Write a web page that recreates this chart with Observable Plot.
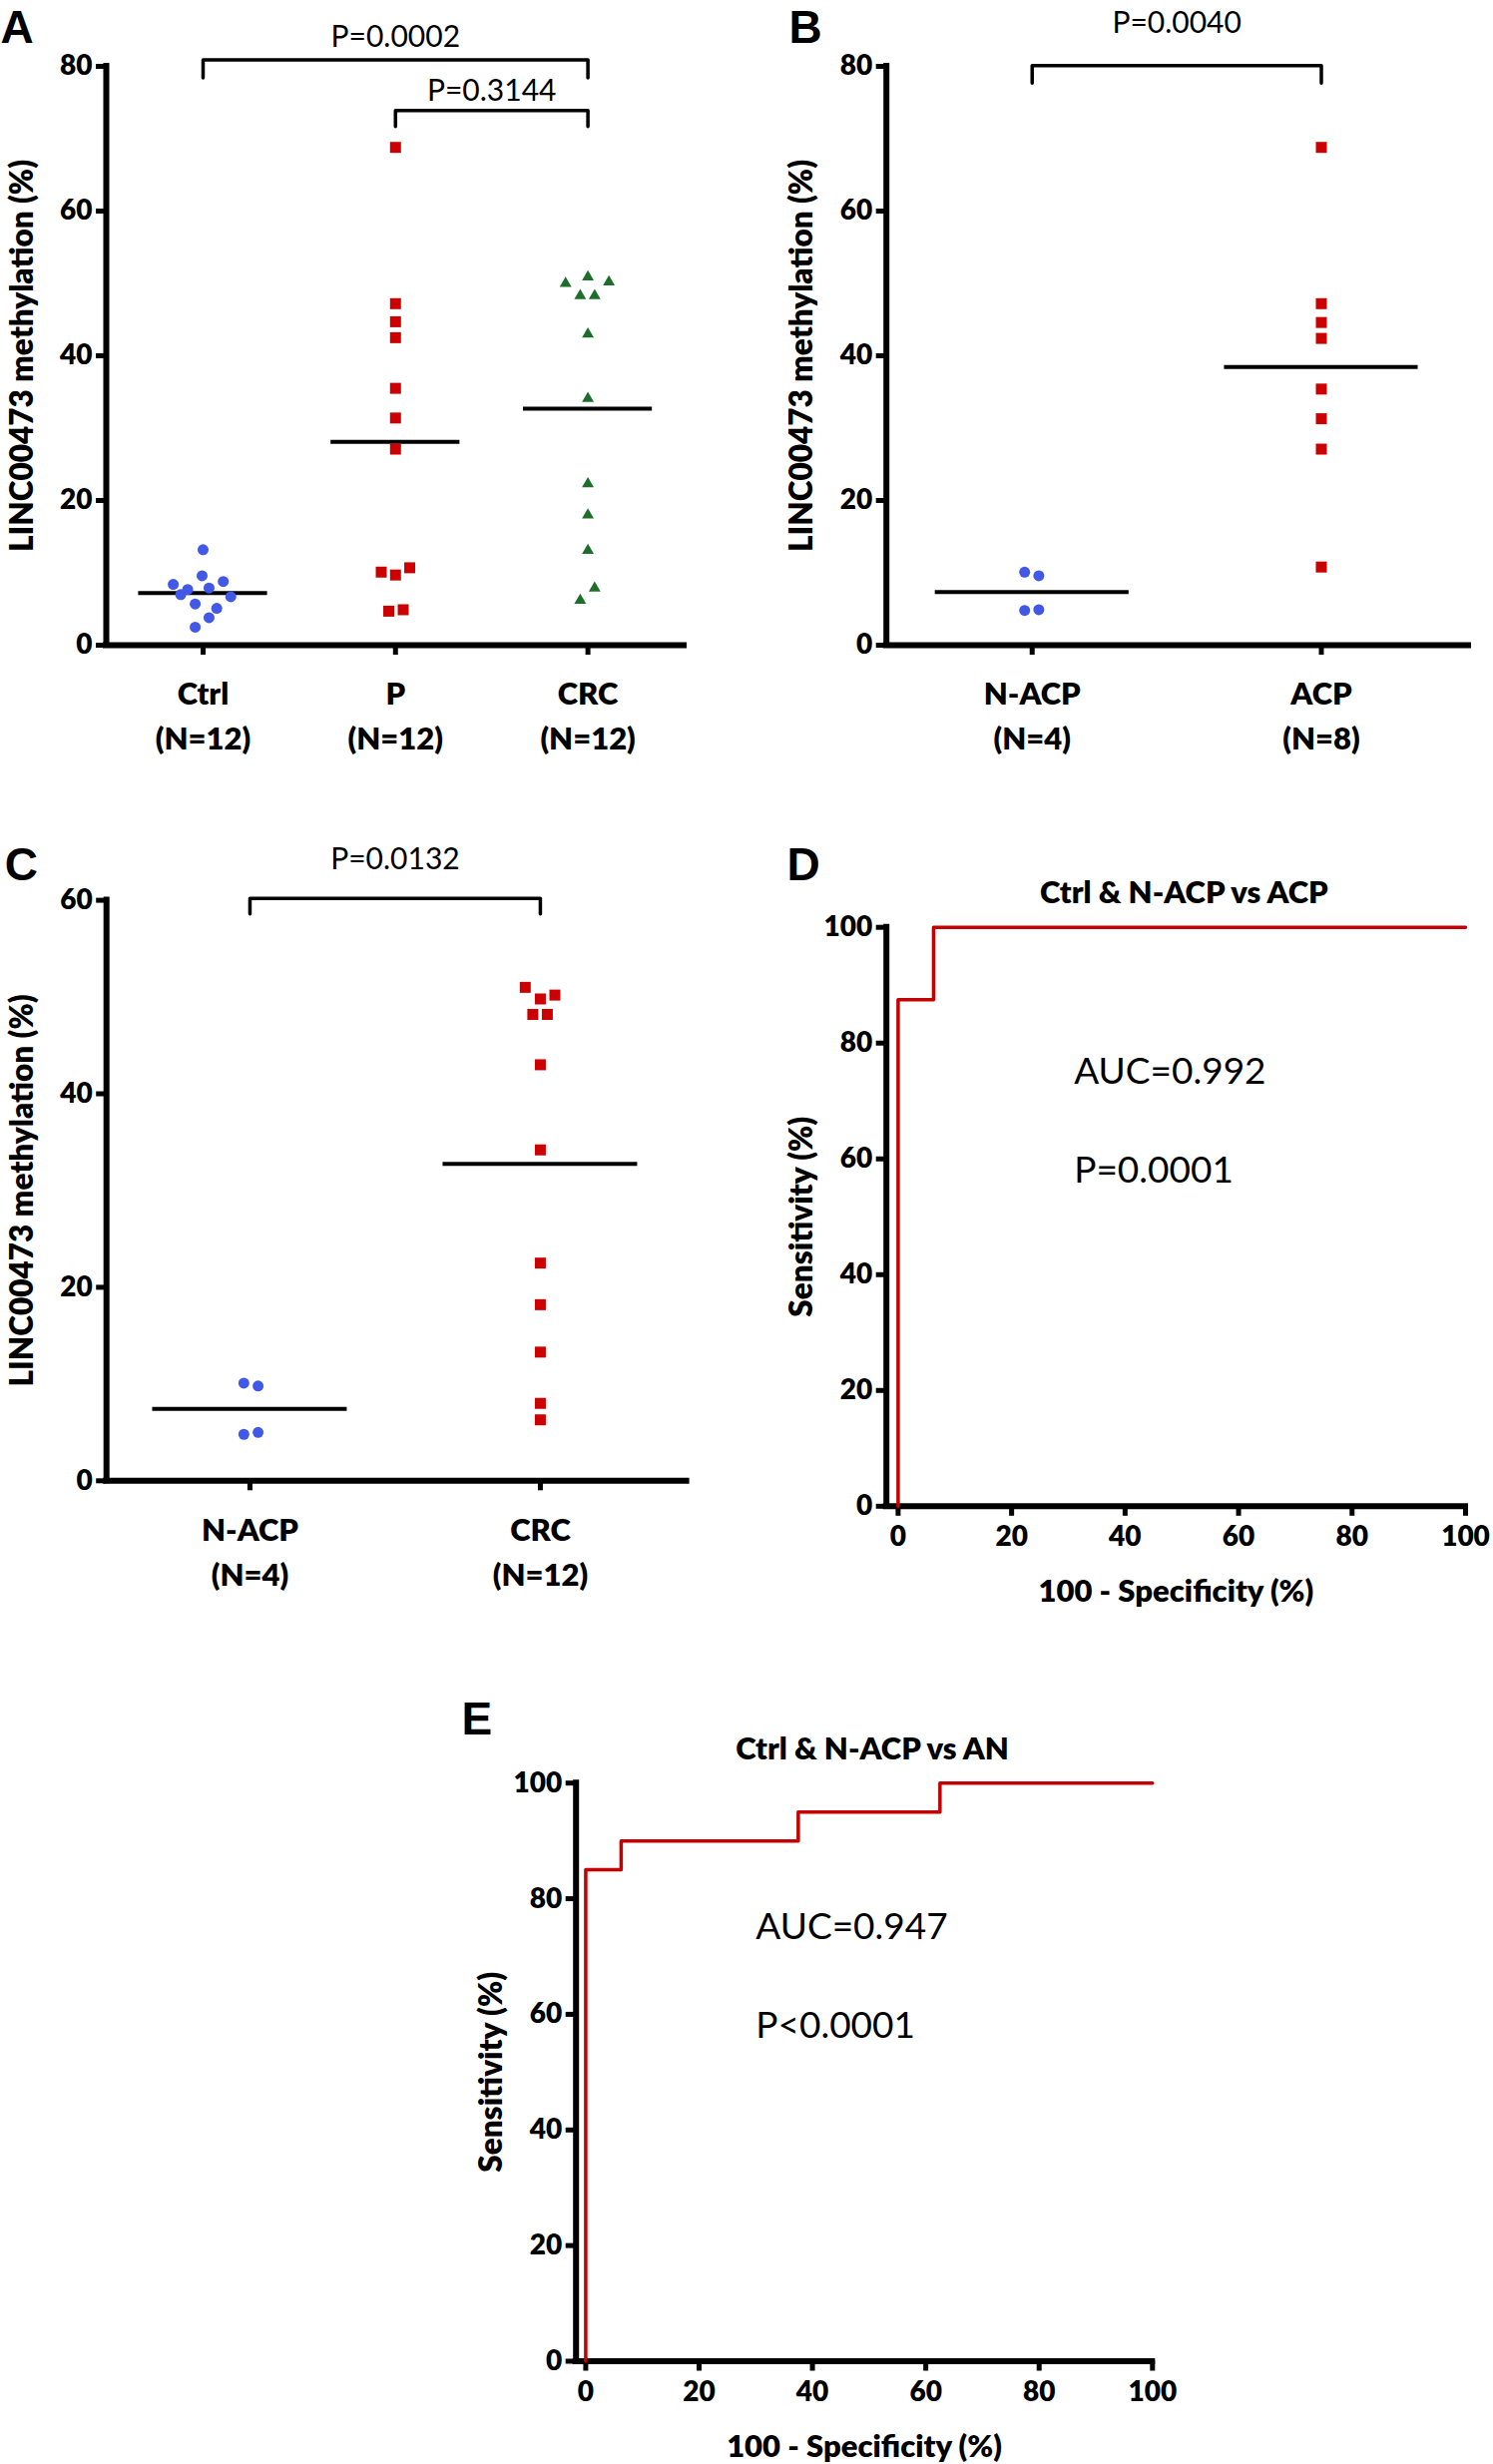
<!DOCTYPE html>
<html>
<head>
<meta charset="utf-8">
<script src="https://cdn.jsdelivr.net/npm/d3@7"></script>
<script src="https://cdn.jsdelivr.net/npm/@observablehq/plot@0.6"></script>
<style>
  body { margin: 0; background: #ffffff; }
  #fig { position: relative; width: 1496px; height: 2469px; background: #ffffff; overflow: hidden; }
  #fig svg { position: absolute; }
</style>
</head>
<body>
<div id="fig"></div>
<script>
// ---------------- DATA ----------------
// Panel A
const groupsA = ["Ctrl", "P", "CRC"];
const nA = ["(N=12)", "(N=12)", "(N=12)"];
const ctrlValues = [13.2, 8.4, 9.6, 8.8, 7.7, 7.9, 7.0, 6.7, 5.7, 5.1, 3.8, 2.5];
const ctrlJitter = [0, -0.155, -0.005, 0.105, -0.080, 0.031, -0.116, 0.144, -0.041, 0.071, 0.031, -0.041];
const polypValues = [68.8, 47.2, 44.7, 42.5, 35.5, 31.4, 27.1, 10.1, 9.7, 10.7, 4.7, 4.9];
const polypJitter = [0, 0, 0, 0, 0, 0, 0, -0.074, 0, 0.074, -0.035, 0.040];
const crcValuesA = [50.9, 50.0, 50.2, 48.3, 48.3, 43.0, 34.1, 22.3, 18.0, 13.1, 7.9, 6.2];
const crcJitterA = [0, -0.116, 0.109, -0.040, 0.035, 0, 0, 0, 0, 0, 0.035, -0.040];
const pLabelsA = ["P=0.0002", "P=0.3144"];

// Panel B
const groupsB = ["N-ACP", "ACP"];
const nB = ["(N=4)", "(N=8)"];
const nacpValuesB = [10.1, 9.6, 4.8, 4.9];
const nacpJitterB = [-0.026, 0.023, -0.026, 0.023];
const acpValues = [68.8, 47.2, 44.6, 42.4, 35.4, 31.3, 27.1, 10.8];
const acpJitter = [0, 0, 0, 0, 0, 0, 0, 0];
const pLabelsB = ["P=0.0040"];

// Panel C
const groupsC = ["N-ACP", "CRC"];
const nC = ["(N=4)", "(N=12)"];
const nacpValuesC = [10.1, 9.8, 4.8, 5.0];
const nacpJitterC = [-0.021, 0.028, -0.021, 0.028];
const crcValuesC = [51.0, 49.8, 50.2, 48.2, 48.2, 43.0, 34.2, 22.5, 18.2, 13.3, 8.0, 6.3];
const crcJitterC = [-0.052, 0, 0.050, -0.026, 0.024, 0, 0, 0, 0, 0, 0, 0];
const pLabelsC = ["P=0.0132"];

// Panel D (ROC: Ctrl & N-ACP vs ACP) – step corners
const rocD_fpr = [0, 0, 6.25, 100];
const rocD_tpr = [0, 87.5, 100, 100];
const statsD = ["AUC=0.992", "P=0.0001"];

// Panel E (ROC: Ctrl & N-ACP vs AN)
const rocE_fpr = [0, 0, 6.25, 37.5, 62.5, 100];
const rocE_tpr = [0, 85, 90, 95, 100, 100];
const statsE = ["AUC=0.947", "P<0.0001"];

const pctTicks = [0, 20, 40, 60, 80, 100];

// ---------------- STYLE ----------------
const BLUE = "#4159e6", RED = "#cc0000", GREEN = "#1d6e2a", ROC = "#c40000";
const FONT = "Lato, 'Open Sans', sans-serif";
const LETTER_FONT = "'Liberation Sans', Arial, sans-serif";
const BOLD = 800;
const fig = document.getElementById("fig");

function place(svg, left, top) {
  svg.style.left = left + "px";
  svg.style.top = top + "px";
  fig.appendChild(svg);
}

function yLabel(text) {
  return Plot.text([text], {frameAnchor: "left", rotate: -90, dx: -84, fontSize: 31.5, fontWeight: BOLD,
    textAnchor: "middle", lineAnchor: "middle", fontFamily: FONT});
}
function letterMark(letter, dx, dy) {
  return Plot.text([letter], {frameAnchor: "top-left", dx, dy, textAnchor: "start", lineAnchor: "bottom",
    fontSize: 46, fontWeight: "bold", fontFamily: LETTER_FONT});
}

function scatterPanel(cfg) {
  const pts = cfg.series.flatMap((s, gi) => s.values.map((v, j) => ({x: gi + s.jitter[j], y: v, s: gi})));
  const means = cfg.series.map((s, gi) => ({g: gi, m: d3.mean(s.values)}));
  const bracketPts = cfg.brackets.flatMap((b, k) => [
    {k, x: b.from, y: b.level - b.drop},
    {k, x: b.from, y: b.level},
    {k, x: b.to, y: b.level},
    {k, x: b.to, y: b.level - b.drop}
  ]);
  const marks = [
    Plot.ruleY([0], {strokeWidth: 6, strokeLinecap: "square"}),
    Plot.ruleX([cfg.xDomain[0]], {strokeWidth: 6, strokeLinecap: "square"}),
    Plot.axisY({ticks: cfg.yTicks, tickSize: 10, tickPadding: 4, fontSize: 28, fontWeight: BOLD,
      strokeWidth: 5, label: null, fontFamily: FONT}),
    Plot.axisX({ticks: d3.range(cfg.groups.length), tickFormat: i => `${cfg.groups[i]}\n${cfg.ns[i]}`,
      tickSize: 10, tickPadding: 18, fontSize: 31, fontWeight: BOLD, lineHeight: 1.45,
      strokeWidth: 5, label: null, fontFamily: FONT}),
    Plot.ruleY(means, {y: "m", x1: d => d.g - 0.335, x2: d => d.g + 0.335, strokeWidth: 4}),
    ...cfg.series.map((s, gi) => Plot.dot(pts.filter(p => p.s === gi), {x: "x", y: "y", symbol: s.symbol,
      r: s.r, fill: s.color, stroke: "none"})),
    Plot.line(bracketPts, {x: "x", y: "y", z: "k", strokeWidth: 3.5}),
    Plot.text(cfg.brackets, {x: b => (b.from + b.to) / 2, y: "textY", text: "label", fontSize: 30,
      fontWeight: "normal", fontFamily: FONT, lineAnchor: "middle"}),
    yLabel("LINC00473 methylation (%)"),
    letterMark(cfg.letter, cfg.letterDx, cfg.letterDy)
  ];
  return Plot.plot({
    width: cfg.width, height: cfg.height,
    marginLeft: cfg.m[0], marginRight: cfg.m[1], marginTop: cfg.m[2], marginBottom: cfg.m[3],
    x: {type: "linear", domain: cfg.xDomain, axis: null},
    y: {type: "linear", domain: [0, cfg.yMax], axis: null},
    style: {background: "white", fontFamily: FONT, color: "black", overflow: "visible"},
    marks
  });
}

function rocPanel(cfg) {
  const pts = cfg.fpr.map((f, i) => ({f, t: cfg.tpr[i]}));
  const marks = [
    Plot.ruleY([0], {strokeWidth: 6, strokeLinecap: "square"}),
    Plot.ruleX([cfg.xDomain[0]], {strokeWidth: 6, strokeLinecap: "square"}),
    Plot.axisY({ticks: pctTicks, tickSize: 10, tickPadding: 4, fontSize: 28, fontWeight: BOLD,
      strokeWidth: 5, label: null, fontFamily: FONT}),
    Plot.axisX({ticks: pctTicks, tickSize: 10, tickPadding: 10, fontSize: 28, fontWeight: BOLD,
      strokeWidth: 5, label: null, fontFamily: FONT}),
    Plot.line(pts, {x: "f", y: "t", curve: "step-after", stroke: ROC, strokeWidth: 3.5}),
    Plot.text([cfg.stats[0]], {x: cfg.statX, y: 75, textAnchor: "start", lineAnchor: "middle", fontSize: 37,
      fontWeight: "normal", fontFamily: FONT}),
    Plot.text([cfg.stats[1]], {x: cfg.statX, y: 58, textAnchor: "start", lineAnchor: "middle", fontSize: 37,
      fontWeight: "normal", fontFamily: FONT}),
    Plot.text([cfg.title], {frameAnchor: "top", dx: 8, dy: -34, lineAnchor: "middle", fontSize: 31,
      fontWeight: BOLD, fontFamily: FONT}),
    Plot.text(["100 - Specificity (%)"], {frameAnchor: "bottom", dy: 86, lineAnchor: "middle", fontSize: 31,
      fontWeight: BOLD, fontFamily: FONT}),
    yLabel("Sensitivity (%)"),
    letterMark(cfg.letter, cfg.letterDx, cfg.letterDy)
  ];
  return Plot.plot({
    width: cfg.width, height: cfg.height,
    marginLeft: cfg.m[0], marginRight: cfg.m[1], marginTop: cfg.m[2], marginBottom: cfg.m[3],
    x: {type: "linear", domain: cfg.xDomain, axis: null},
    y: {type: "linear", domain: [0, 100], axis: null},
    style: {background: "white", fontFamily: FONT, color: "black", overflow: "visible"},
    marks
  });
}

// ---------------- PANELS ----------------
place(scatterPanel({
  width: 748, height: 780, m: [106, 63, 66, 134],
  xDomain: [-0.503, 2.50], yMax: 80, yTicks: [0, 20, 40, 60, 80],
  groups: groupsA, ns: nA,
  series: [
    {values: ctrlValues, jitter: ctrlJitter, symbol: "circle", r: 5.5, color: BLUE},
    {values: polypValues, jitter: polypJitter, symbol: "square", r: 6.2, color: RED},
    {values: crcValuesA, jitter: crcJitterA, symbol: "triangle", r: 4.4, color: GREEN}
  ],
  brackets: [
    {from: 0, to: 2, level: 80.9, drop: 2.5, label: pLabelsA[0], textY: 84.0},
    {from: 1, to: 2, level: 73.9, drop: 2.2, label: pLabelsA[1], textY: 76.6}
  ],
  letter: "A", letterDx: -106, letterDy: -24
}), 0, 0);

place(scatterPanel({
  width: 748, height: 780, m: [139.7, 25, 66, 134],
  xDomain: [-0.504, 1.509], yMax: 80, yTicks: [0, 20, 40, 60, 80],
  groups: groupsB, ns: nB,
  series: [
    {values: nacpValuesB, jitter: nacpJitterB, symbol: "circle", r: 5.5, color: BLUE},
    {values: acpValues, jitter: acpJitter, symbol: "square", r: 6.2, color: RED}
  ],
  brackets: [
    {from: 0, to: 1, level: 80.1, drop: 2.4, label: pLabelsB[0], textY: 86.0}
  ],
  letter: "B", letterDx: -97.7, letterDy: -24
}), 748, 0);

place(scatterPanel({
  width: 748, height: 800, m: [106.2, 60.4, 81.6, 136.7],
  xDomain: [-0.494, 1.504], yMax: 60, yTicks: [0, 20, 40, 60],
  groups: groupsC, ns: nC,
  series: [
    {values: nacpValuesC, jitter: nacpJitterC, symbol: "circle", r: 5.5, color: BLUE},
    {values: crcValuesC, jitter: crcJitterC, symbol: "square", r: 6.2, color: RED}
  ],
  brackets: [
    {from: 0, to: 1, level: 60.2, drop: 1.6, label: pLabelsC[0], textY: 64.2}
  ],
  letter: "C", letterDx: -102, letterDy: -20.6
}), 0, 820);

place(rocPanel({
  width: 748, height: 800, m: [139.7, 28, 108.7, 111.2],
  xDomain: [-2.06, 100], fpr: rocD_fpr, tpr: rocD_tpr, stats: statsD, statX: 31,
  title: "Ctrl & N-ACP vs ACP",
  letter: "D", letterDx: -99.7, letterDy: -47.7
}), 748, 820);

place(rocPanel({
  width: 800, height: 809, m: [196.7, 25.7, 126.2, 103.5],
  xDomain: [-1.71, 100], fpr: rocE_fpr, tpr: rocE_tpr, stats: statsE, statX: 30,
  title: "Ctrl & N-ACP vs AN",
  letter: "E", letterDx: -114.7, letterDy: -49.2
}), 380, 1660);
</script>
</body>
</html>
